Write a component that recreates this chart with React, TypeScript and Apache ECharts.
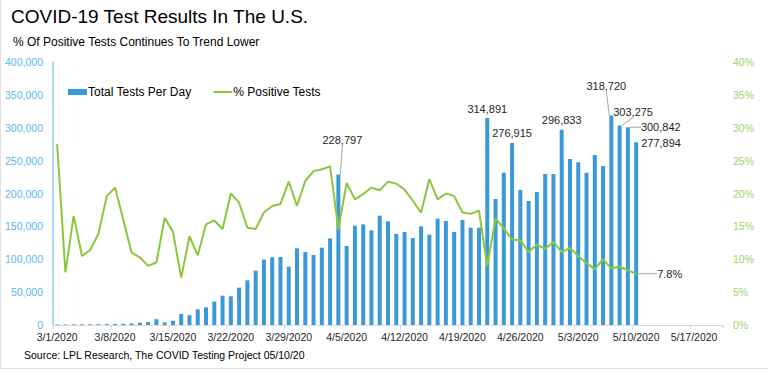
import React, { useEffect, useRef } from "react";
import * as echarts from "echarts";

const FONT = "'Liberation Sans', Arial, sans-serif";

// Categories: every day from 3/1/2020 to 5/20/2020
const MONTH_DAYS: [number, number][] = [
  [3, 31],
  [4, 30],
  [5, 20],
];
const dates: string[] = [];
MONTH_DAYS.forEach(([m, n]) => {
  for (let d = 1; d <= n; d++) dates.push(`${m}/${d}/2020`);
});

// Total tests per day (3/1 .. 5/10)
const totalTests: number[] = [
  800, 900, 1000, 1100, 1200, 1300, 1400, 1600, 1800, 2200,
  3500, 4500, 8800, 4000, 6500, 16700, 15000, 23900, 26900, 35500,
  44600, 43600, 56800, 68000, 82600, 99400, 103000, 103400, 88700, 116600,
  111000, 106500, 117600, 131800, 228797, 120200, 151000, 153100, 144000, 166300,
  157700, 138400, 141400, 132300, 150100, 137400, 161700, 158200, 141400, 159700,
  148000, 148000, 314891, 191600, 231600, 276915, 205300, 188600, 202300, 229700,
  229700, 296833, 252500, 247400, 231600, 258500, 241800, 318720, 303275, 300842,
  277894,
];

// % positive tests (3/1 .. 5/10)
const pctPositive: number[] = [
  27.5, 8.0, 16.6, 10.5, 11.4, 13.9, 19.6, 20.9, 16.0, 11.0,
  10.3, 9.0, 9.5, 16.3, 14.2, 7.2, 13.5, 10.6, 15.3, 15.9,
  14.6, 20.0, 18.6, 14.8, 14.6, 17.1, 18.1, 18.4, 21.8, 18.1,
  21.9, 23.4, 23.7, 24.1, 14.6, 21.6, 19.1, 19.9, 20.9, 20.5,
  21.8, 21.5, 20.6, 18.9, 17.1, 22.2, 19.1, 20.0, 19.6, 17.1,
  16.9, 17.4, 9.0, 16.2, 14.7, 13.0, 12.9, 11.1, 12.2, 11.6,
  12.6, 11.1, 11.7, 10.5, 9.4, 8.5, 10.0, 8.6, 8.9, 8.3,
  7.8,
];

// Which bars carry value labels, and which of those have a leader line
const labeledBars: number[] = [34, 52, 55, 61, 67, 68, 69, 70];
const leaderBars: number[] = [34, 67, 68, 69];

// Label placement relative to the top-centre of the bar (styling only)
const barLabelPlace: Record<number, { dx: number; dy: number; align: string }> = {
  34: { dx: 4, dy: -35, align: "center" },
  52: { dx: 0, dy: -9, align: "center" },
  55: { dx: 0, dy: -10, align: "center" },
  61: { dx: 0, dy: -9.5, align: "center" },
  67: { dx: -5, dy: -29, align: "center" },
  68: { dx: 13.5, dy: -13.5, align: "center" },
  69: { dx: 13, dy: 0, align: "left" },
  70: { dx: 5, dy: 0.5, align: "left" },
};

const BAR_COLOR = "#3a9ad9";
const LINE_COLOR = "#8cc63e";
const LEFT_AXIS_COLOR = "#5ab8ec";
const RIGHT_AXIS_COLOR = "#a2d06a";
const TEXT_COLOR = "#262626";
const LEADER_COLOR = "#a6a6a6";

export default function App() {
  const ref = useRef<HTMLDivElement>(null);

  useEffect(() => {
    document.body.style.margin = "0";
    if (!ref.current) return;
    const chart = echarts.init(ref.current, undefined, { renderer: "svg" });

    const barData = totalTests.map((v, i) =>
      labeledBars.includes(i)
        ? {
            value: v,
            label: { show: true },
            labelLine: { show: leaderBars.includes(i) },
          }
        : v
    );

    const lastIdx = pctPositive.length - 1;
    const lineData = pctPositive.map((v, i) =>
      i === lastIdx
        ? {
            value: v,
            symbol: "circle",
            symbolSize: 2,
            itemStyle: { color: "rgba(0,0,0,0)", borderWidth: 0 },
            label: { show: true, color: TEXT_COLOR },
            labelLine: { show: true },
          }
        : v
    );

    const option: any = {
      animation: false,
      textStyle: { fontFamily: FONT },
      title: [
        {
          text: "COVID-19 Test Results In The U.S.",
          left: 11,
          top: 7,
          padding: 0,
          textStyle: { fontSize: 19, fontWeight: "normal", color: "#000", fontFamily: FONT },
        },
        {
          text: "% Of Positive Tests Continues To Trend Lower",
          left: 13,
          top: 36,
          padding: 0,
          textStyle: { fontSize: 12, fontWeight: "normal", color: "#000", fontFamily: FONT },
        },
        {
          text: "Source: LPL Research, The COVID Testing Project 05/10/20",
          left: 24,
          top: 349,
          padding: 0,
          textStyle: { fontSize: 10.5, fontWeight: "normal", color: "#000", fontFamily: FONT },
        },
      ],
      legend: {
        left: 68,
        top: 86,
        padding: 0,
        itemWidth: 19,
        itemHeight: 6,
        itemGap: 22,
        textStyle: { fontSize: 12, color: "#000", fontFamily: FONT, padding: [0, 0, 0, -4] },
        data: [
          { name: "Total Tests Per Day", icon: "rect" },
          {
            name: "% Positive Tests",
            icon: "path://M0,0h0.01v0.01h-0.01z M0,2h19v2h-19z M0,6h0.01v0.01h-0.01z",
          },
        ],
      },
      grid: { left: 53, right: 45, top: 62, bottom: 45 },
      xAxis: {
        type: "category",
        data: dates,
        boundaryGap: true,
        axisLine: { show: true, lineStyle: { color: "#d9d9d9", width: 1 } },
        axisTick: { show: true, alignWithLabel: false, interval: 6, length: 4, lineStyle: { color: "#d9d9d9" } },
        axisLabel: { interval: 6, fontSize: 10.5, color: TEXT_COLOR, margin: 6, fontFamily: FONT },
        splitLine: { show: false },
      },
      yAxis: [
        {
          type: "value",
          min: 0,
          max: 400000,
          interval: 50000,
          axisLine: { show: true, lineStyle: { color: "#8fd0f2", width: 1.5 } },
          axisTick: { show: false },
          splitLine: { show: false },
          axisLabel: {
            fontSize: 10.5,
            color: LEFT_AXIS_COLOR,
            margin: 10,
            fontFamily: FONT,
            formatter: (v: number) => v.toLocaleString("en-US"),
          },
        },
        {
          type: "value",
          min: 0,
          max: 40,
          interval: 5,
          position: "right",
          axisLine: { show: false },
          axisTick: { show: false },
          splitLine: { show: false },
          axisLabel: {
            fontSize: 10.5,
            color: RIGHT_AXIS_COLOR,
            margin: 10,
            fontFamily: FONT,
            formatter: "{value}%",
          },
        },
      ],
      series: [
        {
          name: "Total Tests Per Day",
          type: "bar",
          yAxisIndex: 0,
          data: barData,
          barWidth: 4,
          itemStyle: { color: BAR_COLOR },
          label: {
            show: false,
            position: "top",
            fontSize: 11,
            color: TEXT_COLOR,
            fontFamily: FONT,
            formatter: (p: any) => Number(p.value).toLocaleString("en-US"),
          },
          labelLine: { show: false, lineStyle: { color: LEADER_COLOR, width: 1 } },
          labelLayout: (p: any) => {
            const place = barLabelPlace[p.dataIndex];
            if (!place) return {};
            return {
              x: p.rect.x + p.rect.width / 2 + place.dx,
              y: p.rect.y + place.dy,
              align: place.align,
              verticalAlign: "middle",
            };
          },
          z: 2,
        },
        {
          name: "% Positive Tests",
          type: "line",
          yAxisIndex: 1,
          data: lineData,
          symbol: "none",
          showSymbol: true,
          lineStyle: { color: LINE_COLOR, width: 2 },
          itemStyle: { color: LINE_COLOR },
          label: {
            show: false,
            position: "right",
            fontSize: 11,
            color: TEXT_COLOR,
            fontFamily: FONT,
            formatter: (p: any) => `${p.value}%`,
          },
          labelLine: { show: false, lineStyle: { color: LEADER_COLOR, width: 1 } },
          labelLayout: (p: any) => {
            if (p.dataIndex !== lastIdx) return {};
            return {
              x: p.rect.x + p.rect.width / 2 + 21,
              y: p.rect.y + p.rect.height / 2,
              align: "left",
              verticalAlign: "middle",
            };
          },
          z: 3,
        },
      ],
      graphic: [
        {
          type: "rect",
          shape: { x: 0.5, y: -10, width: 800, height: 378.5 },
          style: { fill: "none", stroke: "#e3e3e3", lineWidth: 1 },
          silent: true,
        },
      ],
    };

    chart.setOption(option);
    return () => chart.dispose();
  }, []);

  return <div ref={ref} style={{ width: 768, height: 370 }} />;
}
